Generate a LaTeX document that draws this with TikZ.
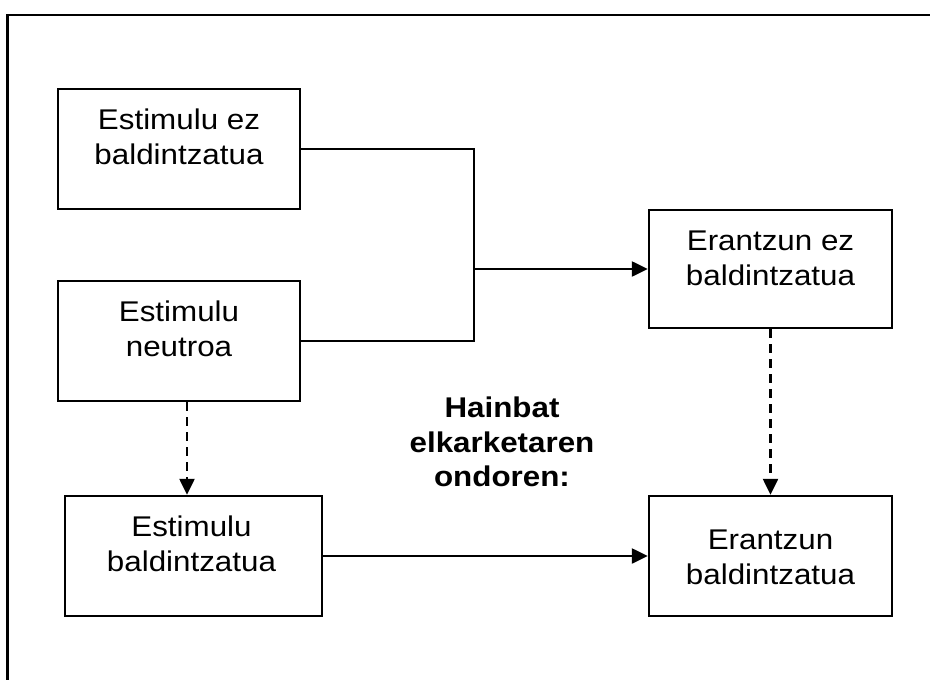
\documentclass[tikz,border=0pt]{standalone}
\usepackage{fontspec}
\setmainfont{Liberation Sans}[FakeStretch=1.1]
\usetikzlibrary{arrows.meta,calc}

\tikzset{
  box/.style={draw, line width=2.4pt, inner sep=0pt},
  txt/.style={align=center, inner sep=0pt, anchor=north,
    font=\fontsize{28.5}{35}\selectfont},
  link/.style={line width=2.4pt},
  arrowlink/.style={line width=2.4pt, -{Triangle[length=16pt,width=15pt]}},
  dashlink/.style={line width=2.4pt, dash pattern=on 9pt off 6pt,
    -{Triangle[length=16pt,width=15pt]}}
}

\begin{document}
\begin{tikzpicture}[x=1pt,y=-1pt]
  \useasboundingbox (0,0) rectangle (930,680);
  \clip (0,0) rectangle (930,680);

  % outer frame, running off the right and bottom edges
  \draw[line width=2.6pt] (7.5,700) -- (7.5,15) -- (950,15);

  % boxes
  \node[box, minimum width=242pt, minimum height=120pt] (b1) at (179,149) {};
  \node[box, minimum width=242pt, minimum height=120pt] (b2) at (179,341) {};
  \node[box, minimum width=243pt, minimum height=118pt] (b3) at (770.5,269) {};
  \node[box, minimum width=257pt, minimum height=120pt] (b4) at (193.5,556) {};
  \node[box, minimum width=243pt, minimum height=120pt] (b5) at (770.5,556) {};

  % box labels
  \node[txt] (t1) at ($(b1.north)+(0,21)$) {Estimulu ez\\baldintzatua};
  \node[txt] (t2) at ($(b2.north)+(0,21)$) {Estimulu\\neutroa};
  \node[txt] (t3) at ($(b3.north)+(0,22)$) {Erantzun ez\\baldintzatua};
  \node[txt] (t4) at ($(b4.north)+(-2,21)$) {Estimulu\\baldintzatua};
  \node[txt] (t5) at ($(b5.north)+(0,35)$) {Erantzun\\baldintzatua};

  % middle caption
  \node[txt, font=\fontsize{28.5}{34.5}\selectfont\bfseries] (cap) at (502,397)
    {Hainbat\\elkarketaren\\ondoren:};

  % joining bracket and arrows
  \coordinate (j) at (474,269);
  \coordinate (dl) at (187,0);
  \draw[link] (b1.east) -| (j) |- (b2.east);
  \draw[arrowlink] (j) -- (b3.west);
  \draw[arrowlink] (b4.east) -- (b5.west);
  \draw[dashlink] (b2.south -| dl) -- (b4.north -| dl);
  \draw[dashlink] (b3.south) -- (b5.north);
\end{tikzpicture}
\end{document}
